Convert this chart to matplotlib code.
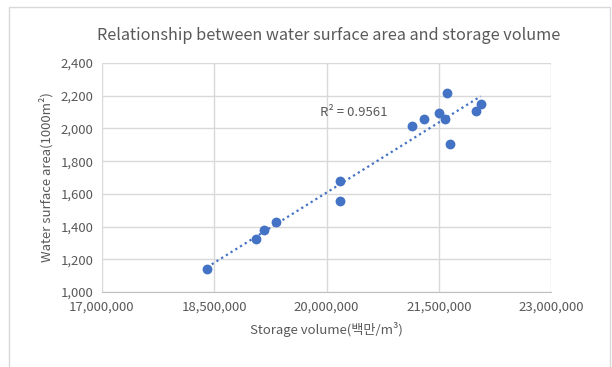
import numpy as np
import matplotlib.pyplot as plt
from matplotlib.patches import Rectangle
from matplotlib.ticker import FuncFormatter

plt.rcParams['font.family'] = ['Noto Sans CJK KR', 'DejaVu Sans']

# storage volume vs water surface area
storage = [18404000, 19053000, 19160000, 19320000, 20180000, 20180000,
           21137000, 21307000, 21510000, 21577000, 21604000, 21650000,
           22000000, 22060000]
area = [1139, 1324, 1379, 1428, 1679, 1557,
        2017, 2060, 2097, 2060, 2219, 1905,
        2105, 2150]
xTicks = [17000000, 18500000, 20000000, 21500000, 23000000]
yTicks = [1000, 1200, 1400, 1600, 1800, 2000, 2200, 2400]
r2Label = "R² = 0.9561"

blue = "#4472C4"
gray = "#595959"

fig = plt.figure(figsize=(6.12, 3.67), dpi=100)
ax = fig.add_axes([102 / 612, 1 - 292 / 367, (551 - 102) / 612, (292 - 63) / 367])

# chart border
fig.patches.append(Rectangle((9 / 612, -0.1), (610 - 9) / 612, 1.1 - 7 / 367,
                             transform=fig.transFigure, fill=False,
                             edgecolor="#D9D9D9", linewidth=1))

ax.scatter(storage, area, s=50, color=blue, zorder=3, linewidths=0)

# linear trendline
coef = np.polyfit(storage, area, 1)
xs = np.array([min(storage), max(storage)])
ax.plot(xs, np.polyval(coef, xs), linestyle=(0, (1, 1.5)), color=blue, linewidth=1.6, zorder=2)
ax.text(19907000, 2095, r2Label, ha="left", va="center", fontsize=9.5, color=gray)

ax.set_xlim(17000000, 23000000)
ax.set_ylim(1000, 2400)
ax.set_xticks(xTicks)
ax.set_yticks(yTicks)
ax.xaxis.set_major_formatter(FuncFormatter(lambda v, p: f"{int(v):,}"))
ax.yaxis.set_major_formatter(FuncFormatter(lambda v, p: f"{int(v):,}"))
ax.tick_params(length=0, labelsize=9.5, labelcolor=gray, pad=6)
ax.grid(True, color="#D9D9D9", linewidth=1)
ax.set_axisbelow(True)
for side in ["top", "right", "left"]:
    ax.spines[side].set_visible(False)
ax.spines["bottom"].set_color("#BFBFBF")

ax.set_xlabel("Storage volume(백만/m³)", fontsize=9.5, color=gray, labelpad=6)
ax.set_ylabel("Water surface area(1000m²)", fontsize=9.5, color=gray, labelpad=5)
fig.text(0.537, 1 - 36 / 367, "Relationship between water surface area and storage volume",
         ha="center", va="center", fontsize=11.7, color=gray)

fig.savefig("out.png", dpi=100)
